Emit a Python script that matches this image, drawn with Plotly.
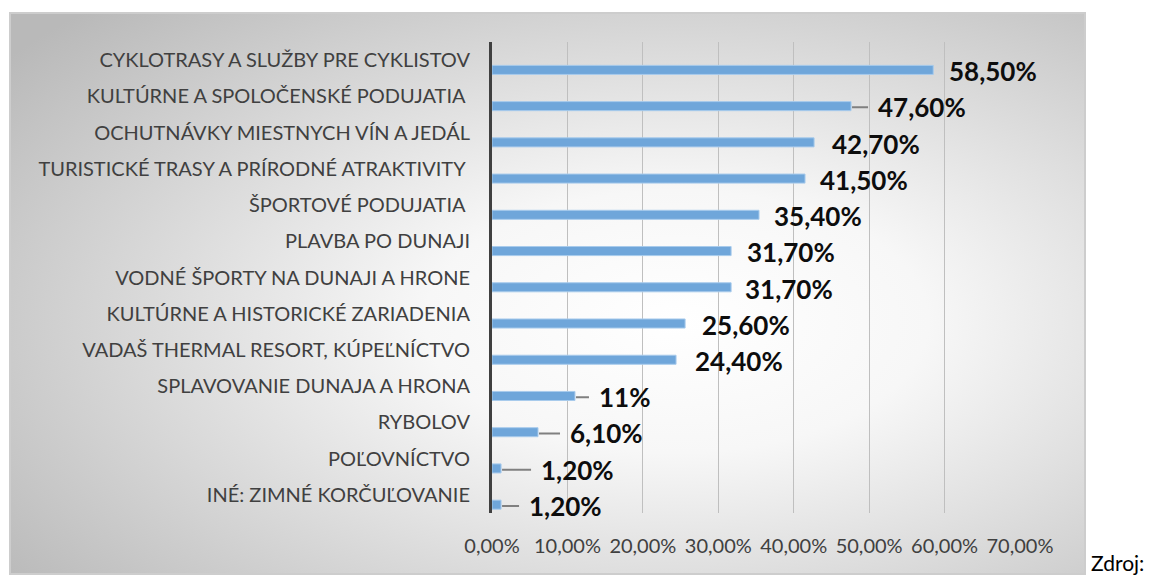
import base64
import plotly.graph_objects as go

categories = [
    "CYKLOTRASY A SLUŽBY PRE CYKLISTOV",
    "KULTÚRNE A SPOLOČENSKÉ PODUJATIA ",
    "OCHUTNÁVKY MIESTNYCH VÍN A JEDÁL",
    "TURISTICKÉ TRASY A PRÍRODNÉ ATRAKTIVITY ",
    "ŠPORTOVÉ PODUJATIA ",
    "PLAVBA PO DUNAJI",
    "VODNÉ ŠPORTY NA DUNAJI A HRONE",
    "KULTÚRNE A HISTORICKÉ ZARIADENIA",
    "VADAŠ THERMAL RESORT, KÚPEĽNÍCTVO",
    "SPLAVOVANIE DUNAJA A HRONA",
    "RYBOLOV",
    "POĽOVNÍCTVO",
    "INÉ: ZIMNÉ KORČUĽOVANIE",
]
values = [0.585, 0.476, 0.427, 0.415, 0.354, 0.317, 0.317, 0.256, 0.244, 0.11, 0.061, 0.012, 0.012]
value_labels = ["58,50%", "47,60%", "42,70%", "41,50%", "35,40%", "31,70%", "31,70%",
                "25,60%", "24,40%", "11%", "6,10%", "1,20%", "1,20%"]
tick_vals = [0, 0.1, 0.2, 0.3, 0.4, 0.5, 0.6, 0.7]

# label placement (pixels from bar end) and whether a leader line is shown
label_gap = [15, 26, 17, 14, 14, 15, 13, 16, 18, 23, 31, 39, 27]
leader = [False, True, False, False, False, False, False, False, False, True, True, True, True]

W, H = 1150, 578
ML, MR, MT, MB = 492, 130, 42, 65
PW, PH = W - ML - MR, H - MT - MB

fig = go.Figure()
fig.add_trace(go.Bar(
    y=categories, x=values, orientation="h",
    width=0.25, offset=0.145,
    marker=dict(color="#6fa6da", line=dict(color="#a8cbec", width=1)),
    hoverinfo="skip",
))

annotations = []
for cat, v, txt, gap, ld in zip(categories, values, value_labels, label_gap, leader):
    pad = 9
    annotations.append(dict(
        x=v, y=cat, xref="x", yref="y", text=f"<b>{txt}</b>",
        showarrow=True, arrowhead=0, arrowwidth=2,
        arrowcolor="#808080" if ld else "rgba(0,0,0,0)",
        ax=gap - pad, ay=0, axref="pixel", ayref="pixel",
        xanchor="left", yanchor="middle", borderpad=pad, standoff=1,
        yshift=-11,
        font=dict(family="Lato, sans-serif", size=26, color="#0d0d0d"),
    ))

# "Zdroj:" text outside chart box
annotations.append(dict(
    x=(1089 - ML) / PW, y=(MT + PH - 577) / PH, xref="paper", yref="paper",
    text="Zdroj:", showarrow=False, xanchor="left", yanchor="bottom",
    font=dict(family="Lato, sans-serif", size=21, color="#000000"),
))

svg = ("<svg xmlns='http://www.w3.org/2000/svg' width='1077' height='563' viewBox='0 0 1077 563' "
       "preserveAspectRatio='none'><defs><radialGradient id='g' cx='0.62' cy='0.55' r='0.78'>"
       "<stop offset='0' stop-color='#ffffff'/><stop offset='0.3' stop-color='#f7f7f7'/>"
       "<stop offset='1' stop-color='#b9b9b9'/></radialGradient></defs>"
       "<rect x='1' y='1' width='1075' height='561' fill='url(#g)' stroke='#cdcdcd' stroke-width='2'/></svg>")
src = "data:image/svg+xml;base64," + base64.b64encode(svg.encode()).decode()

bx0, by0, bw, bh = 9, 12, 1077, 563
fig.add_layout_image(dict(
    source=src, xref="paper", yref="paper",
    x=(bx0 - ML) / PW, y=(MT + PH - by0) / PH,
    sizex=bw / PW, sizey=bh / PH, xanchor="left", yanchor="top",
    sizing="stretch", layer="below",
))

n = len(categories)
fig.update_layout(
    width=W, height=H,
    margin=dict(l=ML, r=MR, t=MT, b=MB, pad=0),
    paper_bgcolor="white", plot_bgcolor="rgba(0,0,0,0)",
    separators=", ",
    showlegend=False,
    annotations=annotations,
    xaxis=dict(
        range=[0, 0.7], tickvals=tick_vals, tickformat=".2%",
        showgrid=True, gridcolor="#bfbfbf", gridwidth=1,
        zeroline=False, showline=False, ticks="",
        ticklabelstandoff=19,
        tickfont=dict(family="Lato, sans-serif", size=20, color="#404040"),
        fixedrange=True,
    ),
    yaxis=dict(
        range=[n - 0.5, -0.5], showgrid=False, zeroline=False,
        showline=True, linecolor="#404040", linewidth=3, ticks="",
        ticklabelstandoff=15,
        tickfont=dict(family="Lato, sans-serif", size=20, color="#404040"),
        fixedrange=True,
    ),
)

fig.write_html(
    "out.html",
    config={"displayModeBar": False},
    post_script="document.body.style.margin='0px';document.body.style.overflow='hidden';",
)
